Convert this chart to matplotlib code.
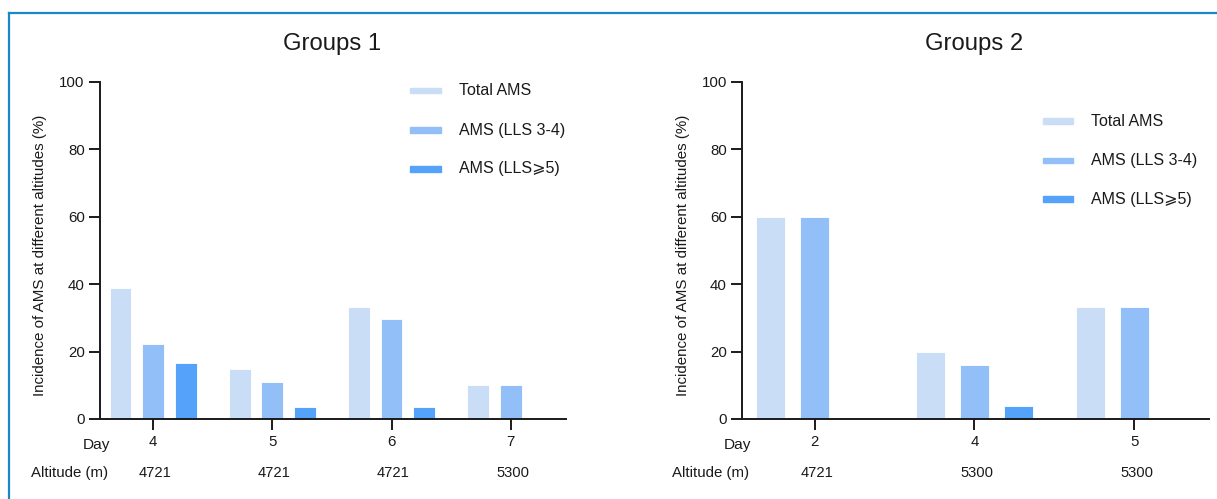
import matplotlib
matplotlib.use("Agg")
import matplotlib.pyplot as plt
from matplotlib.patches import Rectangle
from matplotlib.lines import Line2D
import matplotlib.transforms as mtransforms
import numpy as np

plt.rcParams['font.family'] = ['Liberation Sans', 'DejaVu Sans']

# ---------------- data ----------------
series_names = ["Total AMS", "AMS (LLS 3-4)", "AMS (LLS\u2a7e5)"]
series_colors = ["#C9DDF7", "#92BFF7", "#55A2FA"]

g1_days = ["4", "5", "6", "7"]
g1_alt = ["4721", "4721", "4721", "5300"]
g1_total = [38.9, 14.8, 33.3, 10.0]
g1_lls34 = [22.2, 11.1, 29.6, 10.0]
g1_lls5 = [16.7, 3.7, 3.7, 0.0]

g2_days = ["2", "4", "5"]
g2_alt = ["4721", "5300", "5300"]
g2_total = [60.0, 20.0, 33.3]
g2_lls34 = [60.0, 16.0, 33.3]
g2_lls5 = [0.0, 4.0, 0.0]

yticks = [0, 20, 40, 60, 80, 100]

W, H = 1217, 499
DPI = 100
fig = plt.figure(figsize=(W / DPI, H / DPI), dpi=DPI)
TXT = "#1a1a1a"


def fx(x):
    return x / W


def fy(y):
    return 1 - y / H


# border (cropped frame: top and left lines)
fig.add_artist(Line2D([fx(8.7), fx(8.7)], [fy(13), 0], color="#1A88C6", lw=1.6,
                      transform=fig.transFigure))
fig.add_artist(Line2D([fx(8.7), 1], [fy(13), fy(13)], color="#1A88C6", lw=1.6,
                      transform=fig.transFigure))


def draw_panel(x0, x1, xlim, days, alts, vals, title, titlex, ylab_x, legend_px,
               legend_ys, text_x, dayright, altright):
    ax = fig.add_axes([fx(x0), fy(419), fx(x1) - fx(x0), fy(81.7) - fy(419)])
    n = len(days)
    x = np.arange(n)
    bw = 0.182
    off = 0.274
    for i, (v, c) in enumerate(zip(vals, series_colors)):
        ax.bar(x + (i - 1) * off, v, width=bw, color=c, edgecolor="white", linewidth=0.6,
               zorder=2)
    ax.set_xlim(*xlim)
    ax.set_ylim(0, 100)
    ax.set_yticks(yticks)
    ax.set_yticklabels([str(t) for t in yticks], fontsize=10.8, color=TXT)
    ax.set_xticks(x)
    ax.set_xticklabels(days, fontsize=10.8, color=TXT)
    for s in ["top", "right"]:
        ax.spines[s].set_visible(False)
    for s in ["left", "bottom"]:
        ax.spines[s].set_linewidth(1.4)
        ax.spines[s].set_color(TXT)
    ax.tick_params(axis="y", length=8, width=1.4, pad=2.7, color=TXT)
    ax.tick_params(axis="x", length=8, width=1.4, pad=3.5, color=TXT)
    ax.patch.set_visible(False)

    # altitude row
    tr = mtransforms.blended_transform_factory(ax.transData, fig.transFigure)
    for xi, a in zip(x, alts):
        ax.text(xi + 0.015, fy(473), a, transform=tr, ha="center", va="center",
                fontsize=10.6, color=TXT)
    fig.text(fx(dayright), fy(445.5), "Day", ha="right", va="center", fontsize=11.1,
             color=TXT)
    fig.text(fx(altright), fy(473), "Altitude (m)", ha="right", va="center",
             fontsize=10.8, color=TXT)

    fig.text(fx(ylab_x), fy(255), "Incidence of AMS at different altitudes (%)",
             rotation=90, ha="center", va="center", fontsize=10.9, color=TXT)
    fig.text(fx(titlex), fy(44), title, ha="center", va="center", fontsize=17.2,
             color=TXT)

    # legend
    lx0, lx1 = legend_px
    for ly, name, c in zip(legend_ys, series_names, series_colors):
        fig.add_artist(Rectangle((fx(lx0), fy(ly + 2.7)), fx(lx1) - fx(lx0),
                                 fy(ly - 2.7) - fy(ly + 2.7), color=c,
                                 transform=fig.transFigure))
        fig.text(fx(text_x), fy(ly), name, ha="left", va="center", fontsize=11.5,
                 color=TXT)
    return ax


draw_panel(99.5, 566.4, (-0.449, 3.465), g1_days, g1_alt, [g1_total, g1_lls34, g1_lls5],
           "Groups 1", 331.6, 40.2, (410.3, 441.3), (90.7, 130, 169), 459.2, 109.8, 107.9)
draw_panel(741.7, 1209.2, (-0.456, 2.47), g2_days, g2_alt, [g2_total, g2_lls34, g2_lls5],
           "Groups 2", 974.5, 682.6, (1042.7, 1073.4), (121, 160.3, 199), 1091.1, 751.5,
           749.5)

fig.savefig("out.png", dpi=DPI)
